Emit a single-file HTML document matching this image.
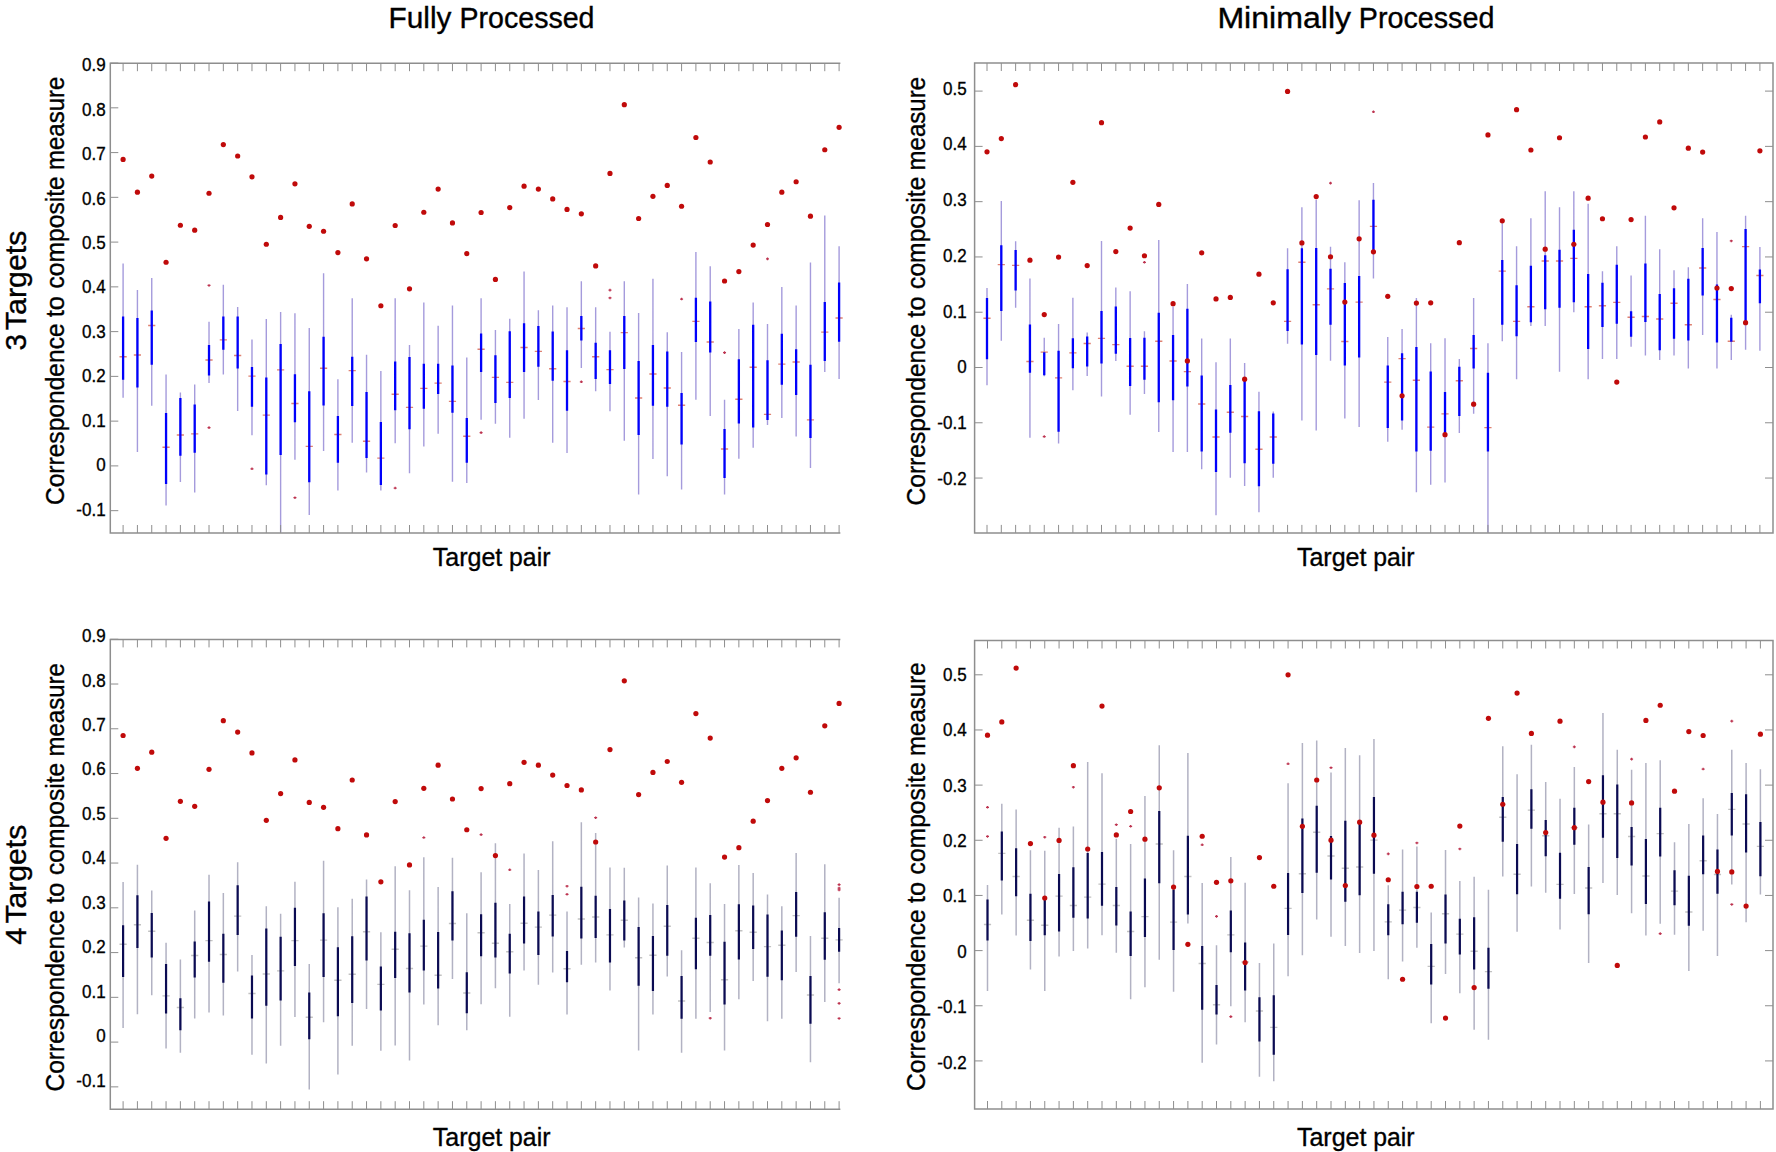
<!DOCTYPE html>
<html><head><meta charset="utf-8"><title>Correspondence to composite measure</title>
<style>html,body{margin:0;padding:0;background:#fff}svg{display:block}</style></head>
<body><svg width="1776" height="1152" viewBox="0 0 1776 1152">
<rect width="1776" height="1152" fill="#fff"/>
<g fill="#c00a0a">
<path d="M123.1 263.59V397.71M137.42 289.9V451.88M151.74 277.92V405.78M166.06 374.53V505.52M180.38 392.5V482.08M194.7 384.43V492.5M209.02 321.67V383.12M223.34 284.69V374.53M237.66 307.08V410.99M251.98 339.38V435.21M266.3 319.06V485.21M280.62 312.03V532.6M294.94 313.33V459.69M309.26 327.92V514.9M323.58 273.23V451.09M337.9 379.22V490.42M352.22 298.23V442.76M366.54 354.74V472.45M380.86 370.89V490.42M395.18 298.23V443.28M409.5 345.1V473.23M423.82 302.4V446.41M438.14 325.83V433.65M452.46 305.52V481.82M466.78 357.6V483.12M481.1 298.23V419.84M495.42 330V423.75M509.74 318.8V437.81M524.06 271.41V418.8M538.38 310.21V400.05M552.7 305.52V442.76M567.02 307.34V452.92M581.34 281.3V368.02M595.66 307.34V391.2M609.98 331.82V411.25M624.3 281.3V440.68M638.62 313.07V494.58M652.94 278.7V458.91M667.26 332.34V476.35M681.58 351.88V489.38M695.9 251.88V399.79M710.22 266.2V415.94M724.54 399.79V494.58M738.86 328.96V458.65M753.18 302.4V447.71M767.5 324.01V425.05M781.82 287.03V418.02M796.14 305.52V436.51M810.46 262.55V468.02M824.78 215.42V371.93M839.1 246.15V378.96" stroke="#a59bdc" stroke-width="1.4" fill="none"/>
<path d="M119.5 356.82h7.2M133.82 355h7.2M148.14 325.57h7.2M162.46 447.19h7.2M176.78 434.95h7.2M191.1 433.91h7.2M205.42 359.95h7.2M219.74 339.9h7.2M234.06 355.52h7.2M248.38 376.09h7.2M262.7 415.16h7.2M277.02 369.84h7.2M291.34 403.44h7.2M305.66 446.41h7.2M319.98 368.28h7.2M334.3 434.43h7.2M348.62 370.62h7.2M362.94 441.2h7.2M377.26 458.12h7.2M391.58 394.32h7.2M405.9 407.34h7.2M420.22 388.33h7.2M434.54 383.12h7.2M448.86 401.35h7.2M463.18 436.25h7.2M477.5 349.27h7.2M491.82 377.4h7.2M506.14 382.34h7.2M520.46 347.45h7.2M534.78 351.35h7.2M549.1 368.8h7.2M563.42 381.56h7.2M577.74 328.44h7.2M592.06 356.82h7.2M606.38 369.58h7.2M620.7 332.6h7.2M635.02 397.97h7.2M649.34 374.01h7.2M663.66 388.07h7.2M677.98 405.26h7.2M692.3 321.41h7.2M706.62 341.98h7.2M720.94 449.01h7.2M735.26 399.27h7.2M749.58 367.24h7.2M763.9 414.38h7.2M778.22 364.11h7.2M792.54 362.03h7.2M806.86 419.84h7.2M821.18 332.08h7.2M835.5 318.02h7.2" stroke="#df8272" stroke-width="1.4" fill="none"/>
<path d="M123.1 316.46V379.74M137.42 318.02V387.55M151.74 310.47V364.64M166.06 413.07V483.91M180.38 397.97V455.78M194.7 404.48V452.66M209.02 345.1V375.57M223.34 316.46V349.79M237.66 316.46V368.54M251.98 366.98V406.82M266.3 377.4V474.53M280.62 344.06V455M294.94 374.27V422.19M309.26 391.2V482.34M323.58 336.77V405.52M337.9 415.94V462.81M352.22 356.82V406.04M366.54 391.98V458.12M380.86 421.93V484.95M395.18 361.51V410.21M409.5 357.08V429.22M423.82 363.85V408.65M438.14 363.85V394.06M452.46 365.42V412.81M466.78 418.02V462.81M481.1 333.39V371.93M495.42 355.26V402.92M509.74 331.3V397.97M524.06 323.23V371.93M538.38 326.09V366.72M552.7 331.56V380.78M567.02 350.31V410.73M581.34 315.94V340.42M595.66 342.76V378.96M609.98 350.31V383.91M624.3 315.94V369.06M638.62 360.99V434.95M652.94 345.1V405.78M667.26 351.61V406.82M681.58 393.02V444.58M695.9 297.71V341.98M710.22 301.61V352.4M724.54 428.96V477.92M738.86 359.17V423.49M753.18 324.79V427.4M767.5 360.21V420.1M781.82 333.65V384.69M796.14 349.27V395.1M810.46 364.64V438.07M824.78 301.88V360.99M839.1 282.6V341.72" stroke="#0000fb" stroke-width="2.3" fill="none"/>
<path d="M207.52 285.47h3M209.02 284.17v2.6M207.52 427.66h3M209.02 426.36v2.6M250.48 468.8h3M251.98 467.5v2.6M293.44 497.71h3M294.94 496.41v2.6M393.68 488.07h3M395.18 486.77v2.6M479.6 432.6h3M481.1 431.3v2.6M579.84 381.82h3M581.34 380.52v2.6M608.48 290.16h3M609.98 288.86v2.6M608.48 297.97h3M609.98 296.67v2.6M680.08 299.01h3M681.58 297.71v2.6M723.04 352.66h3M724.54 351.36v2.6M766 258.91h3M767.5 257.61v2.6" stroke="#bd3450" stroke-width="1.25" fill="none"/>
<circle cx="123.1" cy="159.38" r="2.6"/>
<circle cx="137.42" cy="192.19" r="2.6"/>
<circle cx="151.74" cy="176.04" r="2.6"/>
<circle cx="166.06" cy="262.24" r="2.6"/>
<circle cx="180.38" cy="225.26" r="2.6"/>
<circle cx="194.7" cy="230.21" r="2.6"/>
<circle cx="209.02" cy="193.23" r="2.6"/>
<circle cx="223.34" cy="144.53" r="2.6"/>
<circle cx="237.66" cy="155.99" r="2.6"/>
<circle cx="251.98" cy="176.82" r="2.6"/>
<circle cx="266.3" cy="244.27" r="2.6"/>
<circle cx="280.62" cy="217.45" r="2.6"/>
<circle cx="294.94" cy="183.85" r="2.6"/>
<circle cx="309.26" cy="226.3" r="2.6"/>
<circle cx="323.58" cy="231.25" r="2.6"/>
<circle cx="337.9" cy="252.6" r="2.6"/>
<circle cx="352.22" cy="203.91" r="2.6"/>
<circle cx="366.54" cy="258.85" r="2.6"/>
<circle cx="380.86" cy="305.73" r="2.6"/>
<circle cx="395.18" cy="225.52" r="2.6"/>
<circle cx="409.5" cy="288.8" r="2.6"/>
<circle cx="423.82" cy="212.24" r="2.6"/>
<circle cx="438.14" cy="189.06" r="2.6"/>
<circle cx="452.46" cy="222.92" r="2.6"/>
<circle cx="466.78" cy="253.65" r="2.6"/>
<circle cx="481.1" cy="212.5" r="2.6"/>
<circle cx="495.42" cy="279.43" r="2.6"/>
<circle cx="509.74" cy="207.55" r="2.6"/>
<circle cx="524.06" cy="186.2" r="2.6"/>
<circle cx="538.38" cy="189.06" r="2.6"/>
<circle cx="552.7" cy="198.96" r="2.6"/>
<circle cx="567.02" cy="209.38" r="2.6"/>
<circle cx="581.34" cy="213.8" r="2.6"/>
<circle cx="595.66" cy="265.89" r="2.6"/>
<circle cx="609.98" cy="173.44" r="2.6"/>
<circle cx="624.3" cy="104.69" r="2.6"/>
<circle cx="638.62" cy="218.49" r="2.6"/>
<circle cx="652.94" cy="196.35" r="2.6"/>
<circle cx="667.26" cy="185.42" r="2.6"/>
<circle cx="681.58" cy="206.25" r="2.6"/>
<circle cx="695.9" cy="137.5" r="2.6"/>
<circle cx="710.22" cy="161.98" r="2.6"/>
<circle cx="724.54" cy="280.99" r="2.6"/>
<circle cx="738.86" cy="271.61" r="2.6"/>
<circle cx="753.18" cy="245.05" r="2.6"/>
<circle cx="767.5" cy="224.48" r="2.6"/>
<circle cx="781.82" cy="192.19" r="2.6"/>
<circle cx="796.14" cy="181.77" r="2.6"/>
<circle cx="810.46" cy="216.15" r="2.6"/>
<circle cx="824.78" cy="149.74" r="2.6"/>
<circle cx="839.1" cy="127.34" r="2.6"/>
<path d="M110.3 533V63.2H839.6M110.3 533H839.6" stroke="#8e8e8e" stroke-width="1.5" fill="none" stroke-linecap="square"/>
<path d="M123.1 63.2v8M123.1 533v-8M137.42 63.2v8M137.42 533v-8M151.74 63.2v8M151.74 533v-8M166.06 63.2v8M166.06 533v-8M180.38 63.2v8M180.38 533v-8M194.7 63.2v8M194.7 533v-8M209.02 63.2v8M209.02 533v-8M223.34 63.2v8M223.34 533v-8M237.66 63.2v8M237.66 533v-8M251.98 63.2v8M251.98 533v-8M266.3 63.2v8M266.3 533v-8M280.62 63.2v8M280.62 533v-8M294.94 63.2v8M294.94 533v-8M309.26 63.2v8M309.26 533v-8M323.58 63.2v8M323.58 533v-8M337.9 63.2v8M337.9 533v-8M352.22 63.2v8M352.22 533v-8M366.54 63.2v8M366.54 533v-8M380.86 63.2v8M380.86 533v-8M395.18 63.2v8M395.18 533v-8M409.5 63.2v8M409.5 533v-8M423.82 63.2v8M423.82 533v-8M438.14 63.2v8M438.14 533v-8M452.46 63.2v8M452.46 533v-8M466.78 63.2v8M466.78 533v-8M481.1 63.2v8M481.1 533v-8M495.42 63.2v8M495.42 533v-8M509.74 63.2v8M509.74 533v-8M524.06 63.2v8M524.06 533v-8M538.38 63.2v8M538.38 533v-8M552.7 63.2v8M552.7 533v-8M567.02 63.2v8M567.02 533v-8M581.34 63.2v8M581.34 533v-8M595.66 63.2v8M595.66 533v-8M609.98 63.2v8M609.98 533v-8M624.3 63.2v8M624.3 533v-8M638.62 63.2v8M638.62 533v-8M652.94 63.2v8M652.94 533v-8M667.26 63.2v8M667.26 533v-8M681.58 63.2v8M681.58 533v-8M695.9 63.2v8M695.9 533v-8M710.22 63.2v8M710.22 533v-8M724.54 63.2v8M724.54 533v-8M738.86 63.2v8M738.86 533v-8M753.18 63.2v8M753.18 533v-8M767.5 63.2v8M767.5 533v-8M781.82 63.2v8M781.82 533v-8M796.14 63.2v8M796.14 533v-8M810.46 63.2v8M810.46 533v-8M824.78 63.2v8M824.78 533v-8M839.1 63.2v8M839.1 533v-8M110.3 63.06h8M110.3 107.82h8M110.3 152.58h8M110.3 197.34h8M110.3 242.1h8M110.3 286.86h8M110.3 331.62h8M110.3 376.38h8M110.3 421.14h8M110.3 465.9h8M110.3 510.66h8" stroke="#8e8e8e" stroke-width="1" fill="none"/>
<path d="M987 288.07V385.21M1001.31 201.09V340.68M1015.63 241.2V307.86M1029.94 278.44V437.81M1044.25 337.81V376.35M1058.57 324.01V443.54M1072.88 297.71V390.16M1087.19 332.6V376.09M1101.5 240.94V396.41M1115.82 287.55V360.99M1130.13 291.2V414.64M1144.44 331.3V394.06M1158.76 239.9V432.08M1173.07 306.56V451.88M1187.38 283.91V451.88M1201.69 338.59V469.32M1216.01 362.29V515.16M1230.32 338.59V477.66M1244.63 363.07V485.99M1258.95 391.72V512.29M1273.26 411.51V477.66M1287.57 248.23V343.8M1301.89 207.34V420.62M1316.2 199.79V430.52M1330.51 246.67V360.73M1344.83 262.29V418.54M1359.14 200.31V426.88M1373.45 183.12V278.44M1387.76 337.03V441.72M1402.08 328.96V429.74M1416.39 297.97V492.24M1430.7 343.28V484.69M1445.02 338.33V482.6M1459.33 358.91V433.12M1473.64 297.97V413.85M1487.95 343.28V532.86M1502.27 223.23V341.2M1516.58 246.15V379.22M1530.89 218.28V326.09M1545.21 191.2V326.09M1559.52 207.34V371.67M1573.83 191.2V312.29M1588.15 203.7V379.22M1602.46 271.15V358.91M1616.77 246.15V358.91M1631.09 275.57V346.67M1645.4 215.68V355.52M1659.71 249.27V359.95M1674.02 270.36V355.52M1688.34 267.24V368.54M1702.65 218.28V334.95M1716.96 232.08V368.54M1731.28 314.64V359.95M1745.59 215.68V349.79M1759.9 246.93V350.83" stroke="#a59bdc" stroke-width="1.4" fill="none"/>
<path d="M983.4 318.28h7.2M997.71 264.64h7.2M1012.03 265.42h7.2M1026.34 361.51h7.2M1040.65 352.14h7.2M1054.97 377.92h7.2M1069.28 352.92h7.2M1083.59 343.54h7.2M1097.9 338.33h7.2M1112.22 344.58h7.2M1126.53 366.2h7.2M1140.84 366.2h7.2M1155.16 341.2h7.2M1169.47 360.99h7.2M1183.78 371.67h7.2M1198.1 403.96h7.2M1212.41 437.03h7.2M1226.72 412.29h7.2M1241.03 416.46h7.2M1255.35 449.27h7.2M1269.66 437.03h7.2M1283.97 321.41h7.2M1298.29 262.29h7.2M1312.6 304.74h7.2M1326.91 288.85h7.2M1341.23 341.46h7.2M1355.54 302.14h7.2M1369.85 226.35h7.2M1384.16 382.08h7.2M1398.48 358.65h7.2M1412.79 380.26h7.2M1427.1 427.14h7.2M1441.42 413.85h7.2M1455.73 380.78h7.2M1470.04 348.49h7.2M1484.36 427.66h7.2M1498.67 271.15h7.2M1512.98 321.41h7.2M1527.29 306.82h7.2M1541.61 260.99h7.2M1555.92 260.99h7.2M1570.23 258.39h7.2M1584.55 306.82h7.2M1598.86 305.78h7.2M1613.17 302.4h7.2M1627.49 317.24h7.2M1641.8 316.46h7.2M1656.11 319.06h7.2M1670.42 303.18h7.2M1684.74 324.79h7.2M1699.05 268.02h7.2M1713.36 299.53h7.2M1727.68 341.2h7.2M1741.99 246.67h7.2M1756.3 275.57h7.2" stroke="#df8272" stroke-width="1.4" fill="none"/>
<path d="M987 297.97V359.17M1001.31 245.36V310.99M1015.63 250.05V290.42M1029.94 324.53V372.71M1044.25 352.14V375.31M1058.57 350.83V431.82M1072.88 338.33V368.28M1087.19 336.51V366.46M1101.5 310.99V363.59M1115.82 306.56V353.7M1130.13 338.07V385.99M1144.44 337.81V379.74M1158.76 312.81V402.14M1173.07 334.95V400.31M1187.38 308.65V386.51M1201.69 375.57V451.61M1216.01 409.43V471.93M1230.32 384.95V432.86M1244.63 381.04V463.33M1258.95 411.25V486.25M1273.26 413.59V463.85M1287.57 269.32V331.04M1301.89 248.23V344.58M1316.2 247.97V355M1330.51 268.8V324.79M1344.83 283.12V365.42M1359.14 276.09V357.6M1373.45 199.79V250.57M1387.76 365.42V427.92M1402.08 353.18V420.62M1416.39 346.93V451.61M1430.7 371.41V450.83M1445.02 391.98V436.25M1459.33 366.72V415.94M1473.64 334.95V368.54M1487.95 372.71V451.61M1502.27 259.95V324.79M1516.58 285.21V336.25M1530.89 265.68V322.19M1545.21 255.26V309.17M1559.52 249.79V307.86M1573.83 229.74V302.14M1588.15 274.01V349.01M1602.46 282.86V326.88M1616.77 264.64V323.75M1631.09 311.25V336.77M1645.4 263.59V321.93M1659.71 294.06V350.31M1674.02 288.33V338.85M1688.34 278.7V340.42M1702.65 247.97V295.62M1716.96 284.43V342.5M1731.28 317.76V341.72M1745.59 228.96V322.71M1759.9 269.58V303.18" stroke="#0000fb" stroke-width="2.3" fill="none"/>
<path d="M1042.75 436.51h3M1044.25 435.21v2.6M1142.94 262.29h3M1144.44 260.99v2.6M1329.01 183.12h3M1330.51 181.82v2.6M1371.95 111.77h3M1373.45 110.47v2.6M1729.78 240.94h3M1731.28 239.64v2.6" stroke="#bd3450" stroke-width="1.25" fill="none"/>
<circle cx="987" cy="151.82" r="2.6"/>
<circle cx="1001.31" cy="138.54" r="2.6"/>
<circle cx="1015.63" cy="84.64" r="2.6"/>
<circle cx="1029.94" cy="260.16" r="2.6"/>
<circle cx="1044.25" cy="314.58" r="2.6"/>
<circle cx="1058.57" cy="257.03" r="2.6"/>
<circle cx="1072.88" cy="182.29" r="2.6"/>
<circle cx="1087.19" cy="265.62" r="2.6"/>
<circle cx="1101.5" cy="122.66" r="2.6"/>
<circle cx="1115.82" cy="251.56" r="2.6"/>
<circle cx="1130.13" cy="228.12" r="2.6"/>
<circle cx="1144.44" cy="255.73" r="2.6"/>
<circle cx="1158.76" cy="204.43" r="2.6"/>
<circle cx="1173.07" cy="303.65" r="2.6"/>
<circle cx="1187.38" cy="360.94" r="2.6"/>
<circle cx="1201.69" cy="252.86" r="2.6"/>
<circle cx="1216.01" cy="298.96" r="2.6"/>
<circle cx="1230.32" cy="297.4" r="2.6"/>
<circle cx="1244.63" cy="379.17" r="2.6"/>
<circle cx="1258.95" cy="274.22" r="2.6"/>
<circle cx="1273.26" cy="302.86" r="2.6"/>
<circle cx="1287.57" cy="91.41" r="2.6"/>
<circle cx="1301.89" cy="242.97" r="2.6"/>
<circle cx="1316.2" cy="196.61" r="2.6"/>
<circle cx="1330.51" cy="256.77" r="2.6"/>
<circle cx="1344.83" cy="302.08" r="2.6"/>
<circle cx="1359.14" cy="238.8" r="2.6"/>
<circle cx="1373.45" cy="251.82" r="2.6"/>
<circle cx="1387.76" cy="296.35" r="2.6"/>
<circle cx="1402.08" cy="395.83" r="2.6"/>
<circle cx="1416.39" cy="303.12" r="2.6"/>
<circle cx="1430.7" cy="302.86" r="2.6"/>
<circle cx="1445.02" cy="434.64" r="2.6"/>
<circle cx="1459.33" cy="242.71" r="2.6"/>
<circle cx="1473.64" cy="404.17" r="2.6"/>
<circle cx="1487.95" cy="134.9" r="2.6"/>
<circle cx="1502.27" cy="220.83" r="2.6"/>
<circle cx="1516.58" cy="109.64" r="2.6"/>
<circle cx="1530.89" cy="150" r="2.6"/>
<circle cx="1545.21" cy="249.22" r="2.6"/>
<circle cx="1559.52" cy="137.76" r="2.6"/>
<circle cx="1573.83" cy="244.27" r="2.6"/>
<circle cx="1588.15" cy="198.18" r="2.6"/>
<circle cx="1602.46" cy="218.75" r="2.6"/>
<circle cx="1616.77" cy="382.03" r="2.6"/>
<circle cx="1631.09" cy="219.53" r="2.6"/>
<circle cx="1645.4" cy="136.98" r="2.6"/>
<circle cx="1659.71" cy="121.88" r="2.6"/>
<circle cx="1674.02" cy="207.81" r="2.6"/>
<circle cx="1688.34" cy="148.18" r="2.6"/>
<circle cx="1702.65" cy="152.08" r="2.6"/>
<circle cx="1716.96" cy="288.02" r="2.6"/>
<circle cx="1731.28" cy="288.54" r="2.6"/>
<circle cx="1745.59" cy="322.66" r="2.6"/>
<circle cx="1759.9" cy="150.78" r="2.6"/>
<path d="M974.6 532.9V63H1773V532.9M974.6 532.9H1773" stroke="#8e8e8e" stroke-width="1.5" fill="none" stroke-linecap="square"/>
<path d="M987 63v8M987 532.9v-8M1001.31 63v8M1001.31 532.9v-8M1015.63 63v8M1015.63 532.9v-8M1029.94 63v8M1029.94 532.9v-8M1044.25 63v8M1044.25 532.9v-8M1058.57 63v8M1058.57 532.9v-8M1072.88 63v8M1072.88 532.9v-8M1087.19 63v8M1087.19 532.9v-8M1101.5 63v8M1101.5 532.9v-8M1115.82 63v8M1115.82 532.9v-8M1130.13 63v8M1130.13 532.9v-8M1144.44 63v8M1144.44 532.9v-8M1158.76 63v8M1158.76 532.9v-8M1173.07 63v8M1173.07 532.9v-8M1187.38 63v8M1187.38 532.9v-8M1201.69 63v8M1201.69 532.9v-8M1216.01 63v8M1216.01 532.9v-8M1230.32 63v8M1230.32 532.9v-8M1244.63 63v8M1244.63 532.9v-8M1258.95 63v8M1258.95 532.9v-8M1273.26 63v8M1273.26 532.9v-8M1287.57 63v8M1287.57 532.9v-8M1301.89 63v8M1301.89 532.9v-8M1316.2 63v8M1316.2 532.9v-8M1330.51 63v8M1330.51 532.9v-8M1344.83 63v8M1344.83 532.9v-8M1359.14 63v8M1359.14 532.9v-8M1373.45 63v8M1373.45 532.9v-8M1387.76 63v8M1387.76 532.9v-8M1402.08 63v8M1402.08 532.9v-8M1416.39 63v8M1416.39 532.9v-8M1430.7 63v8M1430.7 532.9v-8M1445.02 63v8M1445.02 532.9v-8M1459.33 63v8M1459.33 532.9v-8M1473.64 63v8M1473.64 532.9v-8M1487.95 63v8M1487.95 532.9v-8M1502.27 63v8M1502.27 532.9v-8M1516.58 63v8M1516.58 532.9v-8M1530.89 63v8M1530.89 532.9v-8M1545.21 63v8M1545.21 532.9v-8M1559.52 63v8M1559.52 532.9v-8M1573.83 63v8M1573.83 532.9v-8M1588.15 63v8M1588.15 532.9v-8M1602.46 63v8M1602.46 532.9v-8M1616.77 63v8M1616.77 532.9v-8M1631.09 63v8M1631.09 532.9v-8M1645.4 63v8M1645.4 532.9v-8M1659.71 63v8M1659.71 532.9v-8M1674.02 63v8M1674.02 532.9v-8M1688.34 63v8M1688.34 532.9v-8M1702.65 63v8M1702.65 532.9v-8M1716.96 63v8M1716.96 532.9v-8M1731.28 63v8M1731.28 532.9v-8M1745.59 63v8M1745.59 532.9v-8M1759.9 63v8M1759.9 532.9v-8M974.6 91.1h8M1773 91.1h-8M974.6 146.38h8M1773 146.38h-8M974.6 201.66h8M1773 201.66h-8M974.6 256.94h8M1773 256.94h-8M974.6 312.22h8M1773 312.22h-8M974.6 367.5h8M1773 367.5h-8M974.6 422.78h8M1773 422.78h-8M974.6 478.06h8M1773 478.06h-8" stroke="#8e8e8e" stroke-width="1" fill="none"/>
<path d="M123.1 882.03V1028.12M137.42 864.84V1014.32M151.74 890.62V995.31M166.06 942.71V1048.44M180.38 959.38V1052.86M194.7 910.42V1018.49M209.02 874.74V1012.5M223.34 892.97V1015.62M237.66 862.24V971.61M251.98 954.95V1054.69M266.3 906.25V1063.54M280.62 913.8V1045.83M294.94 881.77V1016.93M309.26 964.06V1089.58M323.58 860.68V1022.14M337.9 907.29V1074.48M352.22 898.7V1045.83M366.54 879.43V1009.11M380.86 932.29V1050.78M395.18 866.15V1045.57M409.5 890.36V1060.42M423.82 857.29V1004.43M438.14 886.98V1025.26M452.46 857.81V978.91M466.78 913.28V1030.21M481.1 872.14V1004.17M495.42 843.23V988.28M509.74 903.91V1016.67M524.06 853.39V970.57M538.38 870.05V984.64M552.7 841.15V972.4M567.02 911.46V1014.58M581.34 822.14V964.84M595.66 833.07V962.5M609.98 867.45V990.62M624.3 867.71V947.4M638.62 897.4V1050.52M652.94 903.39V1014.58M667.26 865.62V976.56M681.58 950.26V1052.86M695.9 867.45V1018.75M710.22 883.33V1011.98M724.54 903.91V1050.52M738.86 865.1V999.22M753.18 872.92V980.99M767.5 894.53V1021.35M781.82 906.25V1018.75M796.14 853.12V971.88M810.46 935.94V1062.24M824.78 864.32V1002.08M839.1 897.66V983.33" stroke="#b2b2c3" stroke-width="1.5" fill="none"/>
<path d="M119.5 944.27h7.2M133.82 924.74h7.2M148.14 931.25h7.2M162.46 995.83h7.2M176.78 1007.55h7.2M191.1 955.47h7.2M205.42 940.62h7.2M219.74 954.43h7.2M234.06 916.15h7.2M248.38 993.49h7.2M262.7 973.96h7.2M277.02 970.83h7.2M291.34 940.62h7.2M305.66 1017.19h7.2M319.98 940.1h7.2M334.3 980.21h7.2M348.62 974.22h7.2M362.94 931.77h7.2M377.26 984.38h7.2M391.58 949.22h7.2M405.9 968.49h7.2M420.22 946.09h7.2M434.54 975.26h7.2M448.86 923.44h7.2M463.18 992.97h7.2M477.5 932.81h7.2M491.82 943.23h7.2M506.14 951.82h7.2M520.46 923.18h7.2M534.78 927.08h7.2M549.1 915.1h7.2M563.42 968.75h7.2M577.74 919.01h7.2M592.06 916.93h7.2M606.38 934.9h7.2M620.7 920.31h7.2M635.02 957.81h7.2M649.34 955.21h7.2M663.66 926.3h7.2M677.98 1001.04h7.2M692.3 938.28h7.2M706.62 942.45h7.2M720.94 979.69h7.2M735.26 930.73h7.2M749.58 932.29h7.2M763.9 946.61h7.2M778.22 945.31h7.2M792.54 915.62h7.2M806.86 995.05h7.2M821.18 938.28h7.2M835.5 939.84h7.2" stroke="#c2c2c2" stroke-width="1.4" fill="none"/>
<path d="M123.1 925.26V977.08M137.42 895.31V947.92M151.74 913.02V957.55M166.06 964.06V1013.54M180.38 998.18V1030.21M194.7 941.41V977.6M209.02 901.56V961.72M223.34 933.85V982.81M237.66 885.16V934.9M251.98 975.52V1018.49M266.3 928.39V1005.73M280.62 936.72V1000.52M294.94 907.81V965.89M309.26 992.45V1039.32M323.58 913.28V977.08M337.9 947.14V1016.15M352.22 936.2V1003.12M366.54 896.61V960.42M380.86 966.41V1010.42M395.18 931.77V978.12M409.5 933.33V992.45M423.82 919.79V970.57M438.14 932.03V988.54M452.46 891.15V940.62M466.78 972.14V1013.28M481.1 914.32V956.25M495.42 902.86V957.55M509.74 933.85V973.44M524.06 896.61V943.49M538.38 911.46V954.95M552.7 895.05V936.46M567.02 951.04V982.29M581.34 886.72V938.54M595.66 895.83V938.02M609.98 909.11V962.5M624.3 900.52V940.62M638.62 927.08V985.68M652.94 935.94V990.89M667.26 904.95V955.73M681.58 976.04V1018.75M695.9 917.71V969.27M710.22 915.1V955.73M724.54 941.67V1004.43M738.86 904.17V959.38M753.18 905.47V948.96M767.5 914.58V976.82M781.82 930.47V980.21M796.14 891.93V936.72M810.46 976.04V1023.7M824.78 912.24V959.64M839.1 928.12V951.82" stroke="#0b0b52" stroke-width="2.2" fill="none"/>
<path d="M422.32 837.5h3M423.82 836.2v2.6M479.6 834.64h3M481.1 833.34v2.6M508.24 869.79h3M509.74 868.49v2.6M565.52 886.2h3M567.02 884.9v2.6M565.52 894.27h3M567.02 892.97v2.6M594.16 817.71h3M595.66 816.41v2.6M708.72 1018.23h3M710.22 1016.93v2.6M837.6 884.64h3M839.1 883.34v2.6M837.6 888.02h3M839.1 886.72v2.6M837.6 889.84h3M839.1 888.54v2.6M837.6 989.58h3M839.1 988.28v2.6M837.6 1003.39h3M839.1 1002.09v2.6M837.6 1018.49h3M839.1 1017.19v2.6" stroke="#bd3450" stroke-width="1.25" fill="none"/>
<circle cx="123.1" cy="735.48" r="2.6"/>
<circle cx="137.42" cy="768.29" r="2.6"/>
<circle cx="151.74" cy="752.14" r="2.6"/>
<circle cx="166.06" cy="838.34" r="2.6"/>
<circle cx="180.38" cy="801.36" r="2.6"/>
<circle cx="194.7" cy="806.31" r="2.6"/>
<circle cx="209.02" cy="769.33" r="2.6"/>
<circle cx="223.34" cy="720.63" r="2.6"/>
<circle cx="237.66" cy="732.09" r="2.6"/>
<circle cx="251.98" cy="752.92" r="2.6"/>
<circle cx="266.3" cy="820.37" r="2.6"/>
<circle cx="280.62" cy="793.55" r="2.6"/>
<circle cx="294.94" cy="759.95" r="2.6"/>
<circle cx="309.26" cy="802.4" r="2.6"/>
<circle cx="323.58" cy="807.35" r="2.6"/>
<circle cx="337.9" cy="828.7" r="2.6"/>
<circle cx="352.22" cy="780.01" r="2.6"/>
<circle cx="366.54" cy="834.95" r="2.6"/>
<circle cx="380.86" cy="881.83" r="2.6"/>
<circle cx="395.18" cy="801.62" r="2.6"/>
<circle cx="409.5" cy="864.9" r="2.6"/>
<circle cx="423.82" cy="788.34" r="2.6"/>
<circle cx="438.14" cy="765.16" r="2.6"/>
<circle cx="452.46" cy="799.02" r="2.6"/>
<circle cx="466.78" cy="829.75" r="2.6"/>
<circle cx="481.1" cy="788.6" r="2.6"/>
<circle cx="495.42" cy="855.53" r="2.6"/>
<circle cx="509.74" cy="783.65" r="2.6"/>
<circle cx="524.06" cy="762.3" r="2.6"/>
<circle cx="538.38" cy="765.16" r="2.6"/>
<circle cx="552.7" cy="775.06" r="2.6"/>
<circle cx="567.02" cy="785.48" r="2.6"/>
<circle cx="581.34" cy="789.9" r="2.6"/>
<circle cx="595.66" cy="841.99" r="2.6"/>
<circle cx="609.98" cy="749.54" r="2.6"/>
<circle cx="624.3" cy="680.79" r="2.6"/>
<circle cx="638.62" cy="794.59" r="2.6"/>
<circle cx="652.94" cy="772.45" r="2.6"/>
<circle cx="667.26" cy="761.52" r="2.6"/>
<circle cx="681.58" cy="782.35" r="2.6"/>
<circle cx="695.9" cy="713.6" r="2.6"/>
<circle cx="710.22" cy="738.08" r="2.6"/>
<circle cx="724.54" cy="857.09" r="2.6"/>
<circle cx="738.86" cy="847.71" r="2.6"/>
<circle cx="753.18" cy="821.15" r="2.6"/>
<circle cx="767.5" cy="800.58" r="2.6"/>
<circle cx="781.82" cy="768.29" r="2.6"/>
<circle cx="796.14" cy="757.87" r="2.6"/>
<circle cx="810.46" cy="792.25" r="2.6"/>
<circle cx="824.78" cy="725.84" r="2.6"/>
<circle cx="839.1" cy="703.44" r="2.6"/>
<path d="M110.3 1109.2V639.4H839.6M110.3 1109.2H839.6" stroke="#8e8e8e" stroke-width="1.5" fill="none" stroke-linecap="square"/>
<path d="M123.1 639.4v8M123.1 1109.2v-8M137.42 639.4v8M137.42 1109.2v-8M151.74 639.4v8M151.74 1109.2v-8M166.06 639.4v8M166.06 1109.2v-8M180.38 639.4v8M180.38 1109.2v-8M194.7 639.4v8M194.7 1109.2v-8M209.02 639.4v8M209.02 1109.2v-8M223.34 639.4v8M223.34 1109.2v-8M237.66 639.4v8M237.66 1109.2v-8M251.98 639.4v8M251.98 1109.2v-8M266.3 639.4v8M266.3 1109.2v-8M280.62 639.4v8M280.62 1109.2v-8M294.94 639.4v8M294.94 1109.2v-8M309.26 639.4v8M309.26 1109.2v-8M323.58 639.4v8M323.58 1109.2v-8M337.9 639.4v8M337.9 1109.2v-8M352.22 639.4v8M352.22 1109.2v-8M366.54 639.4v8M366.54 1109.2v-8M380.86 639.4v8M380.86 1109.2v-8M395.18 639.4v8M395.18 1109.2v-8M409.5 639.4v8M409.5 1109.2v-8M423.82 639.4v8M423.82 1109.2v-8M438.14 639.4v8M438.14 1109.2v-8M452.46 639.4v8M452.46 1109.2v-8M466.78 639.4v8M466.78 1109.2v-8M481.1 639.4v8M481.1 1109.2v-8M495.42 639.4v8M495.42 1109.2v-8M509.74 639.4v8M509.74 1109.2v-8M524.06 639.4v8M524.06 1109.2v-8M538.38 639.4v8M538.38 1109.2v-8M552.7 639.4v8M552.7 1109.2v-8M567.02 639.4v8M567.02 1109.2v-8M581.34 639.4v8M581.34 1109.2v-8M595.66 639.4v8M595.66 1109.2v-8M609.98 639.4v8M609.98 1109.2v-8M624.3 639.4v8M624.3 1109.2v-8M638.62 639.4v8M638.62 1109.2v-8M652.94 639.4v8M652.94 1109.2v-8M667.26 639.4v8M667.26 1109.2v-8M681.58 639.4v8M681.58 1109.2v-8M695.9 639.4v8M695.9 1109.2v-8M710.22 639.4v8M710.22 1109.2v-8M724.54 639.4v8M724.54 1109.2v-8M738.86 639.4v8M738.86 1109.2v-8M753.18 639.4v8M753.18 1109.2v-8M767.5 639.4v8M767.5 1109.2v-8M781.82 639.4v8M781.82 1109.2v-8M796.14 639.4v8M796.14 1109.2v-8M810.46 639.4v8M810.46 1109.2v-8M824.78 639.4v8M824.78 1109.2v-8M839.1 639.4v8M839.1 1109.2v-8M110.3 639.26h8M110.3 684.02h8M110.3 728.78h8M110.3 773.54h8M110.3 818.3h8M110.3 863.06h8M110.3 907.82h8M110.3 952.58h8M110.3 997.34h8M110.3 1042.1h8M110.3 1086.86h8" stroke="#8e8e8e" stroke-width="1" fill="none"/>
<path d="M987.5 884.9V990.89M1001.81 803.65V914.58M1016.13 809.38V935.42M1030.44 850.26V969.53M1044.75 850.78V990.89M1059.07 827.86V956.51M1073.38 826.56V951.04M1087.69 761.98V948.44M1102 773.18V935.16M1116.32 838.8V952.86M1130.63 844.01V999.22M1144.94 796.09V987.24M1159.26 745.31V959.64M1173.57 850.26V991.67M1187.88 753.12V923.44M1202.19 883.07V1062.76M1216.51 945.31V1044.53M1230.82 857.03V1006.25M1245.13 882.81V1022.14M1259.45 963.02V1076.82M1273.76 943.49V1081.25M1288.07 783.33V976.3M1302.39 742.97V955.21M1316.7 740.62V919.53M1331.01 772.4V936.72M1345.33 747.92V946.09M1359.64 755.21V953.12M1373.95 739.06V951.04M1388.26 885.16V979.17M1402.58 849.48V961.46M1416.89 846.61V947.66M1431.2 912.5V1023.18M1445.52 850V973.96M1459.83 880.99V993.23M1474.14 876.82V1029.69M1488.45 889.84V1039.84M1502.77 746.35V876.56M1517.08 774.22V931.77M1531.39 744.79V886.46M1545.71 782.03V892.71M1560.02 798.7V929.43M1574.33 766.93V894.01M1588.65 824.48V963.02M1602.96 713.02V883.07M1617.27 749.74V895.05M1631.59 769.79V913.28M1645.9 763.02V935.42M1660.21 760.16V923.7M1674.52 842.19V934.64M1688.84 823.96V971.09M1703.15 798.18V930.73M1717.46 814.06V955.99M1731.78 749.74V884.38M1746.09 763.02V922.14M1760.4 769.27V894.53" stroke="#b2b2c3" stroke-width="1.5" fill="none"/>
<path d="M983.9 924.48h7.2M998.21 853.39h7.2M1012.53 876.56h7.2M1026.84 920.31h7.2M1041.15 925.26h7.2M1055.47 896.09h7.2M1069.78 905.47h7.2M1084.09 897.14h7.2M1098.4 884.11h7.2M1112.72 905.47h7.2M1127.03 931.51h7.2M1141.34 916.67h7.2M1155.66 844.01h7.2M1169.97 922.14h7.2M1184.28 876.56h7.2M1198.6 963.54h7.2M1212.91 1004.69h7.2M1227.22 934.9h7.2M1241.53 961.98h7.2M1255.85 1010.94h7.2M1270.16 1027.34h7.2M1284.47 908.33h7.2M1298.79 873.7h7.2M1313.1 832.29h7.2M1327.41 855.99h7.2M1341.73 868.23h7.2M1356.04 866.93h7.2M1370.35 840.1h7.2M1384.66 921.88h7.2M1398.98 910.16h7.2M1413.29 907.55h7.2M1427.6 966.41h7.2M1441.92 913.8h7.2M1456.23 934.11h7.2M1470.54 951.3h7.2M1484.86 971.61h7.2M1499.17 817.19h7.2M1513.48 874.22h7.2M1527.79 810.16h7.2M1542.11 835.68h7.2M1556.42 884.38h7.2M1570.73 827.6h7.2M1585.05 888.02h7.2M1599.36 813.8h7.2M1613.67 813.8h7.2M1627.99 836.46h7.2M1642.3 876.04h7.2M1656.61 833.59h7.2M1670.92 891.15h7.2M1685.24 911.98h7.2M1699.55 860.68h7.2M1713.86 874.48h7.2M1728.18 809.38h7.2M1742.49 823.96h7.2M1756.8 846.35h7.2" stroke="#c2c2c2" stroke-width="1.4" fill="none"/>
<path d="M987.5 899.48V940.62M1001.81 831.51V880.47M1016.13 848.18V896.35M1030.44 893.75V940.89M1044.75 900V935.16M1059.07 873.96V931.51M1073.38 867.19V917.71M1087.69 853.12V918.49M1102 852.08V905.73M1116.32 886.98V925.52M1130.63 911.46V955.99M1144.94 878.39V936.98M1159.26 810.94V883.33M1173.57 889.58V950M1187.88 835.68V914.58M1202.19 946.09V1009.64M1216.51 984.9V1014.58M1230.82 910.42V952.34M1245.13 942.45V990.62M1259.45 997.14V1041.41M1273.76 995.31V1054.69M1288.07 872.92V934.9M1302.39 818.49V892.97M1316.7 805.73V872.66M1331.01 835.94V879.43M1345.33 820.83V901.82M1359.64 823.18V895.31M1373.95 796.88V873.7M1388.26 904.17V935.16M1402.58 891.67V924.22M1416.89 891.67V922.66M1431.2 944.01V984.38M1445.52 894.53V943.49M1459.83 918.75V954.43M1474.14 917.19V969.53M1488.45 947.66V988.8M1502.77 796.88V841.67M1517.08 844.01V894.27M1531.39 789.32V828.65M1545.71 820.05V856.25M1560.02 852.86V898.7M1574.33 807.81V844.79M1588.65 866.93V914.32M1602.96 775.26V837.76M1617.27 784.38V858.07M1631.59 827.08V865.62M1645.9 839.06V903.91M1660.21 807.81V856.51M1674.52 870.31V905.21M1688.84 875.78V925.78M1703.15 835.42V874.22M1717.46 849.48V893.75M1731.78 792.97V835.42M1746.09 794.27V852.6M1760.4 821.88V876.3" stroke="#0b0b52" stroke-width="2.2" fill="none"/>
<path d="M986 807.29h3M987.5 805.99v2.6M986 836.46h3M987.5 835.16v2.6M1043.25 837.24h3M1044.75 835.94v2.6M1071.88 787.24h3M1073.38 785.94v2.6M1114.82 824.74h3M1116.32 823.44v2.6M1129.13 826.3h3M1130.63 825v2.6M1200.69 844.79h3M1202.19 843.49v2.6M1215.01 916.41h3M1216.51 915.11v2.6M1229.32 1016.67h3M1230.82 1015.37v2.6M1286.57 763.8h3M1288.07 762.5v2.6M1329.51 767.71h3M1331.01 766.41v2.6M1386.76 853.91h3M1388.26 852.61v2.6M1415.39 842.97h3M1416.89 841.67v2.6M1458.33 848.96h3M1459.83 847.66v2.6M1572.83 746.88h3M1574.33 745.58v2.6M1630.09 759.11h3M1631.59 757.81v2.6M1658.71 933.59h3M1660.21 932.29v2.6M1701.65 769.01h3M1703.15 767.71v2.6M1730.28 721.09h3M1731.78 719.79v2.6M1730.28 904.43h3M1731.78 903.13v2.6" stroke="#bd3450" stroke-width="1.25" fill="none"/>
<circle cx="987.5" cy="735.22" r="2.6"/>
<circle cx="1001.81" cy="721.94" r="2.6"/>
<circle cx="1016.13" cy="668.04" r="2.6"/>
<circle cx="1030.44" cy="843.56" r="2.6"/>
<circle cx="1044.75" cy="897.98" r="2.6"/>
<circle cx="1059.07" cy="840.43" r="2.6"/>
<circle cx="1073.38" cy="765.69" r="2.6"/>
<circle cx="1087.69" cy="849.02" r="2.6"/>
<circle cx="1102" cy="706.06" r="2.6"/>
<circle cx="1116.32" cy="834.96" r="2.6"/>
<circle cx="1130.63" cy="811.52" r="2.6"/>
<circle cx="1144.94" cy="839.13" r="2.6"/>
<circle cx="1159.26" cy="787.83" r="2.6"/>
<circle cx="1173.57" cy="887.05" r="2.6"/>
<circle cx="1187.88" cy="944.34" r="2.6"/>
<circle cx="1202.19" cy="836.26" r="2.6"/>
<circle cx="1216.51" cy="882.36" r="2.6"/>
<circle cx="1230.82" cy="880.8" r="2.6"/>
<circle cx="1245.13" cy="962.57" r="2.6"/>
<circle cx="1259.45" cy="857.62" r="2.6"/>
<circle cx="1273.76" cy="886.26" r="2.6"/>
<circle cx="1288.07" cy="674.81" r="2.6"/>
<circle cx="1302.39" cy="826.37" r="2.6"/>
<circle cx="1316.7" cy="780.01" r="2.6"/>
<circle cx="1331.01" cy="840.17" r="2.6"/>
<circle cx="1345.33" cy="885.48" r="2.6"/>
<circle cx="1359.64" cy="822.2" r="2.6"/>
<circle cx="1373.95" cy="835.22" r="2.6"/>
<circle cx="1388.26" cy="879.75" r="2.6"/>
<circle cx="1402.58" cy="979.23" r="2.6"/>
<circle cx="1416.89" cy="886.52" r="2.6"/>
<circle cx="1431.2" cy="886.26" r="2.6"/>
<circle cx="1445.52" cy="1018.04" r="2.6"/>
<circle cx="1459.83" cy="826.11" r="2.6"/>
<circle cx="1474.14" cy="987.57" r="2.6"/>
<circle cx="1488.45" cy="718.3" r="2.6"/>
<circle cx="1502.77" cy="804.23" r="2.6"/>
<circle cx="1517.08" cy="693.04" r="2.6"/>
<circle cx="1531.39" cy="733.4" r="2.6"/>
<circle cx="1545.71" cy="832.62" r="2.6"/>
<circle cx="1560.02" cy="721.16" r="2.6"/>
<circle cx="1574.33" cy="827.67" r="2.6"/>
<circle cx="1588.65" cy="781.58" r="2.6"/>
<circle cx="1602.96" cy="802.15" r="2.6"/>
<circle cx="1617.27" cy="965.43" r="2.6"/>
<circle cx="1631.59" cy="802.93" r="2.6"/>
<circle cx="1645.9" cy="720.38" r="2.6"/>
<circle cx="1660.21" cy="705.27" r="2.6"/>
<circle cx="1674.52" cy="791.21" r="2.6"/>
<circle cx="1688.84" cy="731.58" r="2.6"/>
<circle cx="1703.15" cy="735.48" r="2.6"/>
<circle cx="1717.46" cy="871.42" r="2.6"/>
<circle cx="1731.78" cy="871.94" r="2.6"/>
<circle cx="1746.09" cy="906.06" r="2.6"/>
<circle cx="1760.4" cy="734.18" r="2.6"/>
<path d="M974.6 1109V640.5H1773V1109M974.6 1109H1773" stroke="#8e8e8e" stroke-width="1.5" fill="none" stroke-linecap="square"/>
<path d="M987.5 640.5v8M987.5 1109v-8M1001.81 640.5v8M1001.81 1109v-8M1016.13 640.5v8M1016.13 1109v-8M1030.44 640.5v8M1030.44 1109v-8M1044.75 640.5v8M1044.75 1109v-8M1059.07 640.5v8M1059.07 1109v-8M1073.38 640.5v8M1073.38 1109v-8M1087.69 640.5v8M1087.69 1109v-8M1102 640.5v8M1102 1109v-8M1116.32 640.5v8M1116.32 1109v-8M1130.63 640.5v8M1130.63 1109v-8M1144.94 640.5v8M1144.94 1109v-8M1159.26 640.5v8M1159.26 1109v-8M1173.57 640.5v8M1173.57 1109v-8M1187.88 640.5v8M1187.88 1109v-8M1202.19 640.5v8M1202.19 1109v-8M1216.51 640.5v8M1216.51 1109v-8M1230.82 640.5v8M1230.82 1109v-8M1245.13 640.5v8M1245.13 1109v-8M1259.45 640.5v8M1259.45 1109v-8M1273.76 640.5v8M1273.76 1109v-8M1288.07 640.5v8M1288.07 1109v-8M1302.39 640.5v8M1302.39 1109v-8M1316.7 640.5v8M1316.7 1109v-8M1331.01 640.5v8M1331.01 1109v-8M1345.33 640.5v8M1345.33 1109v-8M1359.64 640.5v8M1359.64 1109v-8M1373.95 640.5v8M1373.95 1109v-8M1388.26 640.5v8M1388.26 1109v-8M1402.58 640.5v8M1402.58 1109v-8M1416.89 640.5v8M1416.89 1109v-8M1431.2 640.5v8M1431.2 1109v-8M1445.52 640.5v8M1445.52 1109v-8M1459.83 640.5v8M1459.83 1109v-8M1474.14 640.5v8M1474.14 1109v-8M1488.45 640.5v8M1488.45 1109v-8M1502.77 640.5v8M1502.77 1109v-8M1517.08 640.5v8M1517.08 1109v-8M1531.39 640.5v8M1531.39 1109v-8M1545.71 640.5v8M1545.71 1109v-8M1560.02 640.5v8M1560.02 1109v-8M1574.33 640.5v8M1574.33 1109v-8M1588.65 640.5v8M1588.65 1109v-8M1602.96 640.5v8M1602.96 1109v-8M1617.27 640.5v8M1617.27 1109v-8M1631.59 640.5v8M1631.59 1109v-8M1645.9 640.5v8M1645.9 1109v-8M1660.21 640.5v8M1660.21 1109v-8M1674.52 640.5v8M1674.52 1109v-8M1688.84 640.5v8M1688.84 1109v-8M1703.15 640.5v8M1703.15 1109v-8M1717.46 640.5v8M1717.46 1109v-8M1731.78 640.5v8M1731.78 1109v-8M1746.09 640.5v8M1746.09 1109v-8M1760.4 640.5v8M1760.4 1109v-8M974.6 674.8h8M1773 674.8h-8M974.6 729.96h8M1773 729.96h-8M974.6 785.12h8M1773 785.12h-8M974.6 840.28h8M1773 840.28h-8M974.6 895.44h8M1773 895.44h-8M974.6 950.6h8M1773 950.6h-8M974.6 1005.76h8M1773 1005.76h-8M974.6 1060.92h8M1773 1060.92h-8" stroke="#8e8e8e" stroke-width="1" fill="none"/>
</g>
<g fill="#000" stroke="#000" stroke-width="0.35" font-family="'Liberation Sans', Arial, sans-serif">
<text x="388.5" y="27.5" font-size="29" textLength="62.9" lengthAdjust="spacingAndGlyphs">Fully</text>
<text x="459.5" y="27.5" font-size="29" textLength="135" lengthAdjust="spacingAndGlyphs">Processed</text>
<text x="1217.4" y="27.5" font-size="29" textLength="133.7" lengthAdjust="spacingAndGlyphs">Minimally</text>
<text x="1358.8" y="27.5" font-size="29" textLength="135.6" lengthAdjust="spacingAndGlyphs">Processed</text>
<text transform="translate(26.2 350.5) rotate(-90)" font-size="30.3" textLength="16.5" lengthAdjust="spacingAndGlyphs">3</text>
<text transform="translate(26.2 330.2) rotate(-90)" font-size="30.3" textLength="99.7" lengthAdjust="spacingAndGlyphs">Targets</text>
<text transform="translate(26.1 944.7) rotate(-90)" font-size="30.3" textLength="17.2" lengthAdjust="spacingAndGlyphs">4</text>
<text transform="translate(26.1 923.6) rotate(-90)" font-size="30.3" textLength="98.8" lengthAdjust="spacingAndGlyphs">Targets</text>
<text transform="translate(64 505.1) rotate(-90)" font-size="25.5" textLength="181.7" lengthAdjust="spacingAndGlyphs">Correspondence</text>
<text transform="translate(64 317.3) rotate(-90)" font-size="25.5" textLength="21.3" lengthAdjust="spacingAndGlyphs">to</text>
<text transform="translate(64 288.5) rotate(-90)" font-size="25.5" textLength="112.3" lengthAdjust="spacingAndGlyphs">composite</text>
<text transform="translate(64 170.1) rotate(-90)" font-size="25.5" textLength="93.6" lengthAdjust="spacingAndGlyphs">measure</text>
<text transform="translate(63.8 1091.6) rotate(-90)" font-size="25.5" textLength="181.7" lengthAdjust="spacingAndGlyphs">Correspondence</text>
<text transform="translate(63.8 903.8) rotate(-90)" font-size="25.5" textLength="21.3" lengthAdjust="spacingAndGlyphs">to</text>
<text transform="translate(63.8 875) rotate(-90)" font-size="25.5" textLength="112.3" lengthAdjust="spacingAndGlyphs">composite</text>
<text transform="translate(63.8 756.6) rotate(-90)" font-size="25.5" textLength="93.6" lengthAdjust="spacingAndGlyphs">measure</text>
<text transform="translate(925.2 505.5) rotate(-90)" font-size="25.5" textLength="181.7" lengthAdjust="spacingAndGlyphs">Correspondence</text>
<text transform="translate(925.2 317.7) rotate(-90)" font-size="25.5" textLength="21.3" lengthAdjust="spacingAndGlyphs">to</text>
<text transform="translate(925.2 288.9) rotate(-90)" font-size="25.5" textLength="112.3" lengthAdjust="spacingAndGlyphs">composite</text>
<text transform="translate(925.2 170.5) rotate(-90)" font-size="25.5" textLength="93.6" lengthAdjust="spacingAndGlyphs">measure</text>
<text transform="translate(925.2 1091) rotate(-90)" font-size="25.5" textLength="181.7" lengthAdjust="spacingAndGlyphs">Correspondence</text>
<text transform="translate(925.2 903.2) rotate(-90)" font-size="25.5" textLength="21.3" lengthAdjust="spacingAndGlyphs">to</text>
<text transform="translate(925.2 874.4) rotate(-90)" font-size="25.5" textLength="112.3" lengthAdjust="spacingAndGlyphs">composite</text>
<text transform="translate(925.2 756) rotate(-90)" font-size="25.5" textLength="93.6" lengthAdjust="spacingAndGlyphs">measure</text>
<text x="432.7" y="566.1" font-size="25.5" textLength="69.6" lengthAdjust="spacingAndGlyphs">Target</text>
<text x="509.1" y="566.1" font-size="25.5" textLength="41.3" lengthAdjust="spacingAndGlyphs">pair</text>
<text x="432.7" y="1145.9" font-size="25.5" textLength="69.6" lengthAdjust="spacingAndGlyphs">Target</text>
<text x="509.1" y="1145.9" font-size="25.5" textLength="41.3" lengthAdjust="spacingAndGlyphs">pair</text>
<text x="1296.9" y="566.1" font-size="25.5" textLength="69.6" lengthAdjust="spacingAndGlyphs">Target</text>
<text x="1373.3" y="566.1" font-size="25.5" textLength="41.3" lengthAdjust="spacingAndGlyphs">pair</text>
<text x="1296.9" y="1145.9" font-size="25.5" textLength="69.6" lengthAdjust="spacingAndGlyphs">Target</text>
<text x="1373.3" y="1145.9" font-size="25.5" textLength="41.3" lengthAdjust="spacingAndGlyphs">pair</text>
<text transform="translate(105.6 71.2) scale(0.9 1)" text-anchor="end" font-size="18.9">0.9</text>
<text transform="translate(105.6 115.65) scale(0.9 1)" text-anchor="end" font-size="18.9">0.8</text>
<text transform="translate(105.6 160.1) scale(0.9 1)" text-anchor="end" font-size="18.9">0.7</text>
<text transform="translate(105.6 204.55) scale(0.9 1)" text-anchor="end" font-size="18.9">0.6</text>
<text transform="translate(105.6 249) scale(0.9 1)" text-anchor="end" font-size="18.9">0.5</text>
<text transform="translate(105.6 293.45) scale(0.9 1)" text-anchor="end" font-size="18.9">0.4</text>
<text transform="translate(105.6 337.9) scale(0.9 1)" text-anchor="end" font-size="18.9">0.3</text>
<text transform="translate(105.6 382.35) scale(0.9 1)" text-anchor="end" font-size="18.9">0.2</text>
<text transform="translate(105.6 426.8) scale(0.9 1)" text-anchor="end" font-size="18.9">0.1</text>
<text transform="translate(105.6 471.25) scale(0.9 1)" text-anchor="end" font-size="18.9">0</text>
<text transform="translate(105.6 515.7) scale(0.9 1)" text-anchor="end" font-size="18.9">-0.1</text>
<text transform="translate(105.6 642.1) scale(0.9 1)" text-anchor="end" font-size="18.9">0.9</text>
<text transform="translate(105.6 686.55) scale(0.9 1)" text-anchor="end" font-size="18.9">0.8</text>
<text transform="translate(105.6 731) scale(0.9 1)" text-anchor="end" font-size="18.9">0.7</text>
<text transform="translate(105.6 775.45) scale(0.9 1)" text-anchor="end" font-size="18.9">0.6</text>
<text transform="translate(105.6 819.9) scale(0.9 1)" text-anchor="end" font-size="18.9">0.5</text>
<text transform="translate(105.6 864.35) scale(0.9 1)" text-anchor="end" font-size="18.9">0.4</text>
<text transform="translate(105.6 908.8) scale(0.9 1)" text-anchor="end" font-size="18.9">0.3</text>
<text transform="translate(105.6 953.25) scale(0.9 1)" text-anchor="end" font-size="18.9">0.2</text>
<text transform="translate(105.6 997.7) scale(0.9 1)" text-anchor="end" font-size="18.9">0.1</text>
<text transform="translate(105.6 1042.15) scale(0.9 1)" text-anchor="end" font-size="18.9">0</text>
<text transform="translate(105.6 1086.6) scale(0.9 1)" text-anchor="end" font-size="18.9">-0.1</text>
<text transform="translate(966.6 94.7) scale(0.9 1)" text-anchor="end" font-size="18.9">0.5</text>
<text transform="translate(966.6 150.4) scale(0.9 1)" text-anchor="end" font-size="18.9">0.4</text>
<text transform="translate(966.6 206.1) scale(0.9 1)" text-anchor="end" font-size="18.9">0.3</text>
<text transform="translate(966.6 261.8) scale(0.9 1)" text-anchor="end" font-size="18.9">0.2</text>
<text transform="translate(966.6 317.5) scale(0.9 1)" text-anchor="end" font-size="18.9">0.1</text>
<text transform="translate(966.6 373.2) scale(0.9 1)" text-anchor="end" font-size="18.9">0</text>
<text transform="translate(966.6 428.9) scale(0.9 1)" text-anchor="end" font-size="18.9">-0.1</text>
<text transform="translate(966.6 484.6) scale(0.9 1)" text-anchor="end" font-size="18.9">-0.2</text>
<text transform="translate(966.6 681) scale(0.9 1)" text-anchor="end" font-size="18.9">0.5</text>
<text transform="translate(966.6 736.36) scale(0.9 1)" text-anchor="end" font-size="18.9">0.4</text>
<text transform="translate(966.6 791.72) scale(0.9 1)" text-anchor="end" font-size="18.9">0.3</text>
<text transform="translate(966.6 847.08) scale(0.9 1)" text-anchor="end" font-size="18.9">0.2</text>
<text transform="translate(966.6 902.44) scale(0.9 1)" text-anchor="end" font-size="18.9">0.1</text>
<text transform="translate(966.6 957.8) scale(0.9 1)" text-anchor="end" font-size="18.9">0</text>
<text transform="translate(966.6 1013.16) scale(0.9 1)" text-anchor="end" font-size="18.9">-0.1</text>
<text transform="translate(966.6 1068.52) scale(0.9 1)" text-anchor="end" font-size="18.9">-0.2</text>
</g>
</svg></body></html>
